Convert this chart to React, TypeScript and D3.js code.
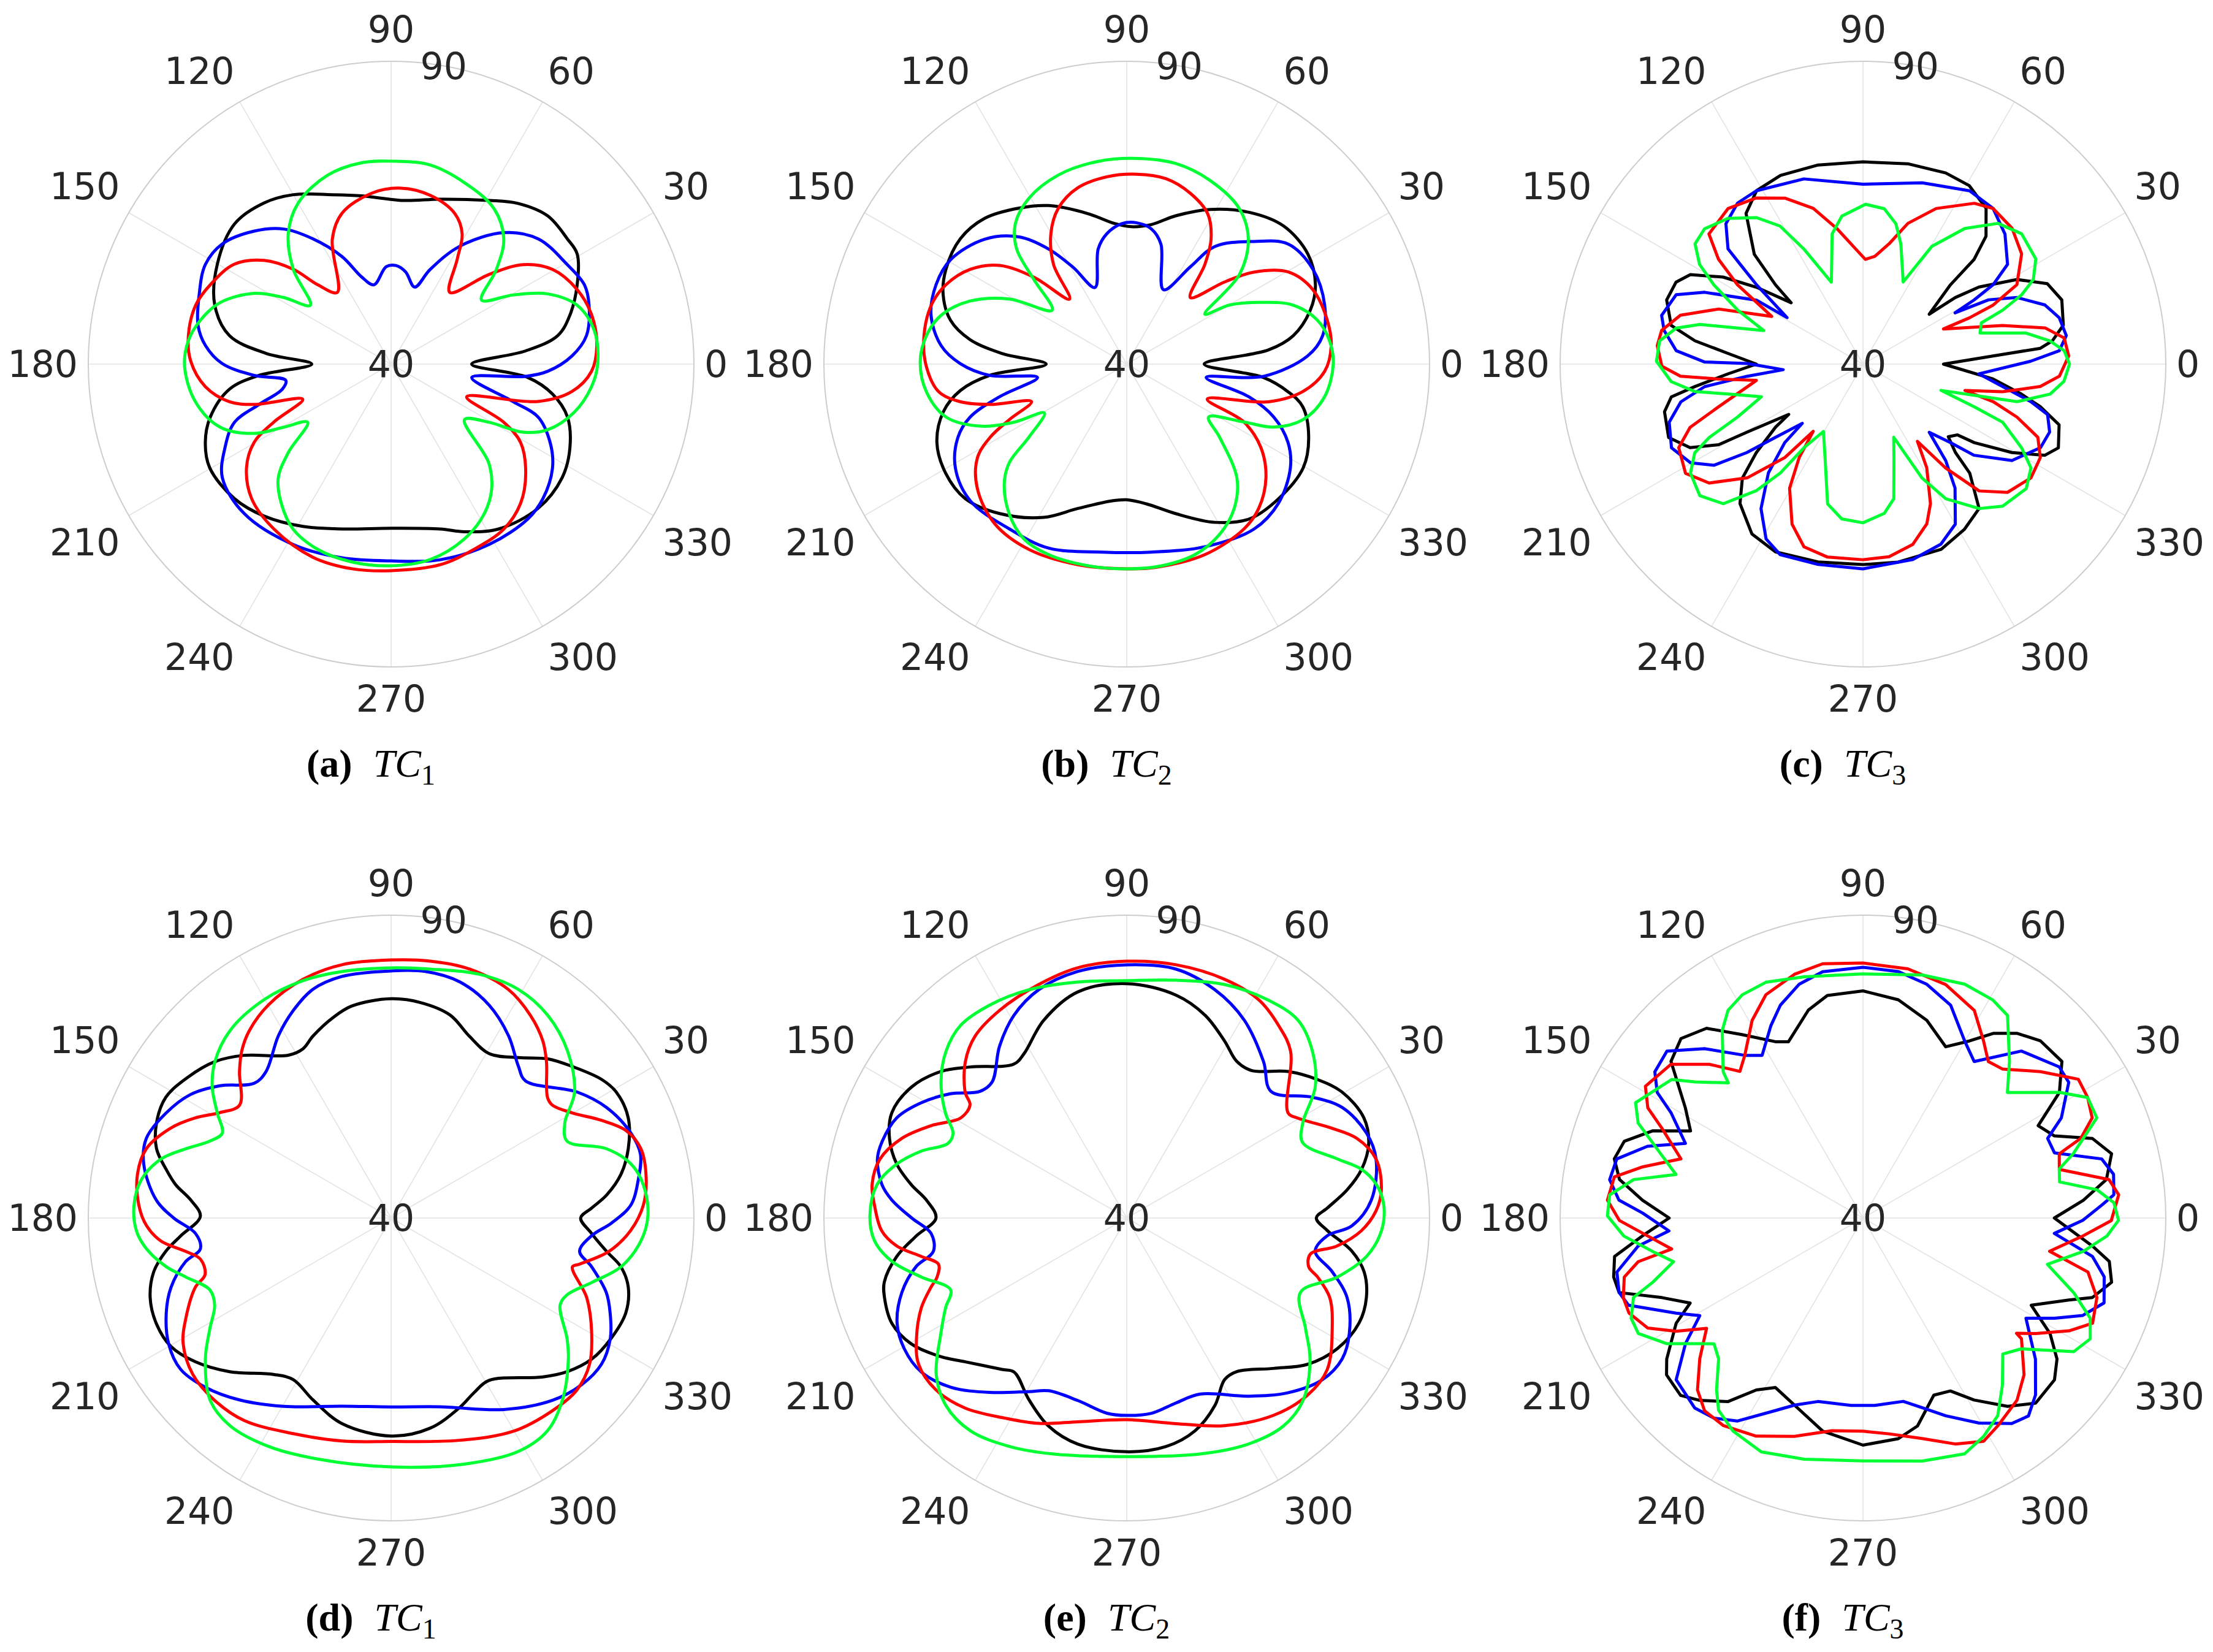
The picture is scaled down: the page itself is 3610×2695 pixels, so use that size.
import React from "react";
import * as d3 from "d3";

type Pt = [number, number]; // [theta in degrees, r value]

// ---- axes / ticks ----
const thetaTicks = [0, 30, 60, 90, 120, 150, 180, 210, 240, 270, 300, 330];
const rTicks = [40, 90];
const rDomain: [number, number] = [40, 90];
const rLabelAngle = 80;
const seriesColors = ["#000000", "#0000ff", "#ff0000", "#00ff33"];

// ---- (a) TC1 ----
const aBlack: Pt[] = [[0,53.3],[5.6,62.3],[9.7,67.9],[15.3,70.6],[23.1,73.4],[30.6,75.7],[35.4,75.7],[43.4,75.6],[51.7,73.8],[59.1,71.5],[73.5,68.4],[85.7,67.1],[99.9,68.2],[109.1,69.6],[120,72.3],[128.3,73.9],[138.1,74.7],[150.1,73.1],[161.5,70.7],[170,67.1],[175.1,60.7],[180,53.1],[184.9,61.9],[188.8,67],[196.3,71.1],[202.9,73.3],[209.8,74.5],[220.6,74.1],[230.1,72.7],[241.5,70.5],[253.4,68.4],[270,67.1],[286.6,68.4],[293.6,70.2],[303.1,72.5],[315.5,74],[326.4,73.9],[334.9,72.6],[343.3,70.4],[349.5,67.1],[354.4,62.7]];
const aBlue: Pt[] = [[2.6,69.9],[8.3,72.6],[16.6,74.1],[22.3,74.5],[29.5,73.4],[40.4,71.9],[49.4,68.6],[59.8,62.5],[67.6,56.9],[73,53.3],[81,55.4],[87.2,56.3],[92.9,56.1],[102.2,53.4],[108.7,55.2],[114.5,59.5],[122,64.4],[128.5,68.5],[135.8,71.5],[144.5,74.2],[151.8,74.8],[160.1,73.7],[168.7,72.5],[174.3,70.8],[179.8,67.9],[184.7,62.7],[188.8,57.6],[192.9,58.4],[197,62.8],[200.4,67.6],[206.7,70.7],[214,73.6],[225.5,74.6],[241.5,73.9],[255.8,73],[270,72.5],[284.1,73.3],[298.5,73.9],[311.5,74.1],[318.4,73.5],[327.2,71.7],[333.7,69.3],[340.2,65.8],[342.9,61.1],[350.6,53.5],[354.8,62.3],[357.4,65.9]];
const aRed: Pt[] = [[5.1,74.1],[13.7,74.1],[21.8,73.1],[30.4,70.9],[37,67.3],[42.5,61.9],[50.7,55.3],[57.8,60.5],[61.4,64.5],[67.1,67],[76.9,68.6],[86.8,69.1],[96.5,68.4],[108,66.2],[115.2,62.8],[126.9,54.8],[132.7,57.8],[135.9,62.5],[140.8,67.1],[147.5,70.7],[156.3,72.6],[163.2,73.7],[172,73.8],[179.1,73.1],[186.9,70.9],[193.1,67.4],[196.4,63.6],[201.7,55.7],[206.3,61.6],[209.8,66.1],[215.7,69.4],[224,72],[234.6,73.4],[247.9,74.4],[259.2,74.4],[270,74.1],[283.8,74.1],[294.2,73.5],[304.3,73],[312.9,71.4],[321,68.6],[328.8,65],[332.7,60.9],[336.6,53.6],[345.7,65],[351.4,70.2],[357.9,73.1]];
const aGreen: Pt[] = [[0,74.1],[9.4,74],[17.6,72.2],[24.2,68.3],[29.5,63.2],[35.3,58.3],[42,63.4],[48,67.8],[56.6,70.8],[67.9,72.3],[78.9,73.5],[88.6,73.5],[98.3,73.6],[108.6,72.9],[120,70.7],[128.3,67.4],[135.9,62.5],[143.9,56.5],[148.2,60.9],[152.6,65.4],[160.2,70],[167,72.3],[173.4,73.7],[180.6,74.1],[190.9,72.9],[200.2,70.1],[206.9,65.3],[210.4,60.6],[214.9,56.8],[220.7,62.4],[225.3,66.5],[231.8,69.3],[239.3,71.7],[248.4,72.9],[258.8,73.3],[270,73.3],[281.3,72.9],[292.7,71.3],[301.9,69.1],[309,66.4],[314.7,62.9],[322.9,55.2],[329.3,58.8],[332.7,64.5],[337.2,68],[345.4,71.3],[353.6,73.3]];

// ---- (b) TC2 ----
const bBlack: Pt[] = [[0,52.8],[5.7,63.5],[9.7,67.9],[16.4,71.6],[22.8,73.8],[31.3,75],[41.4,74.5],[51.1,72.2],[61.7,69],[71.7,65.8],[80,63.4],[88,62.7],[94.9,63.3],[104.6,65.7],[116.3,69.2],[124.6,71.3],[134.2,73.6],[143,74.4],[152.4,73.7],[159.3,72.4],[166,70],[171.1,66.2],[175.1,60.7],[180,53.3],[184.7,62.7],[189,67.8],[194.6,71.3],[202.4,73.9],[211,74.9],[219.8,74.7],[229.6,72.4],[241.5,68.8],[251.2,65.2],[263.9,62.7],[270,62.4],[278,63.3],[288.2,66],[299.1,69.9],[308.3,72.6],[318.4,73.5],[329.5,73.8],[338,72.4],[346.4,69.9],[350.3,67],[354.4,62.7]];
const bBlue: Pt[] = [[2.6,69.9],[8.3,72.7],[16.6,74.1],[27,74.5],[36.7,73.2],[43.9,69.2],[53.1,64.3],[56.8,59.2],[63.7,53.7],[74.1,60.6],[79.7,62.7],[86.1,63.4],[92,63.2],[98.6,61.8],[103.9,59.6],[112.5,53.7],[119,58.3],[124.2,63],[130.2,67.5],[138.6,71.2],[149.3,73.8],[157.4,74.1],[166,73.3],[174.3,70.8],[179.8,67.5],[184.7,62.7],[188.5,54.9],[194.4,61.7],[198.7,67.3],[203.5,70.4],[211.3,73.1],[221.2,74.3],[234.6,73.4],[247,73],[262.6,71.3],[277.4,71.3],[293.2,72.8],[307.6,74.4],[317.4,74],[327.6,72],[334.1,69.6],[340.2,65.8],[345,60.9],[350.5,53.3],[354.9,62.7]];
const bRed: Pt[] = [[5.1,73.9],[12.3,73.9],[21.8,73.1],[29.7,70.7],[35.9,65.9],[40,61.1],[46.3,55.2],[51.9,60.9],[56,64.9],[61.7,68.2],[69.6,70.1],[78.1,71.3],[87.1,71.4],[96,71.1],[105.6,70.2],[113.7,68.1],[120.2,64.9],[126.3,60.4],[131.3,54.3],[136.9,61],[142.2,66.6],[148.8,70.2],[156.3,72.6],[163.2,73.7],[172,73.8],[180.6,73.1],[188.3,71.4],[192.7,68.2],[196.4,63.6],[201.5,56.9],[205.3,61.4],[208.2,65.6],[212.1,69.1],[219.8,72.1],[230.4,74.2],[242.2,74.6],[256.3,74.1],[270,73.8],[278.2,73.9],[292.3,74],[305.4,73.4],[312.4,72.3],[320.7,69.7],[328.1,66.1],[333.7,61.6],[336.5,54.5],[345.1,64.2],[351.1,69.4],[357.9,72.7]];
const bGreen: Pt[] = [[0,74.1],[6.6,73.7],[13,72.3],[19.6,69.1],[25,64.1],[29.9,59.6],[32.6,55.3],[38.5,63.8],[45.8,68.8],[54.1,71.7],[65.6,73.3],[76.3,74.1],[87.3,74],[98.2,73.8],[109.9,73.2],[120.5,71.8],[128.4,69.6],[133.7,66.3],[137.7,60.7],[144.1,55.2],[151,62.2],[158.1,67.9],[165.3,71.7],[171.9,73.4],[179.2,74.1],[187.8,73.4],[196.3,71.1],[202.9,66.3],[207.3,60.9],[210.7,55.8],[216.8,60.2],[220,65.3],[224.2,68.2],[231.8,71.4],[239.6,73.5],[247.7,74],[259,73.9],[270,73.8],[279.6,73.8],[289.8,73.4],[298.7,72],[306.7,69.7],[314,66.2],[321.8,59.5],[327.1,56.1],[333.7,61.6],[336.8,66.4],[342.5,70.5],[350.6,73.1]];

// ---- (c) TC3 ----
const cBlack: Pt[] = [[0,53.3],[3.6,61.5],[5.1,69.4],[7,71.5],[11,73.7],[17.9,74.5],[23.6,73.2],[28.8,69],[33.6,63],[35.8,58.8],[37,53.7],[42.2,59.5],[43.3,65.2],[46.1,69.3],[51.7,72.8],[59.2,74.3],[66.6,74.4],[77.4,73.9],[90,73.4],[102.7,73.7],[113.6,74],[121.5,73.6],[127.8,71.5],[134.7,65.5],[137.8,59.5],[139.5,55.6],[144.2,61.7],[148.1,67.2],[152.6,72.1],[156.3,73.7],[161.9,74.1],[168.6,72.3],[172.1,68],[175.5,62.3],[180,57.6],[184.1,62.3],[187.6,68],[189.7,72.1],[193.5,73.7],[200.7,74.3],[205.8,71.7],[209.2,67.3],[210.4,62.2],[214.1,54.8],[215.8,57.8],[219.7,62.9],[223.4,67.4],[228.6,70.7],[236.8,73.5],[245,74.2],[257.2,73.5],[270,73.1],[280.1,73.2],[292.9,73.2],[301.6,72],[308.8,70.6],[314.4,65.2],[316.3,61.1],[319.6,58.5],[323.2,59.5],[324.8,62.5],[329.3,68.6],[333.4,73.6],[336.8,75.1],[342.8,73.9],[346.5,70.1],[349.3,66.6],[353.5,61.6]];
const cBlue: Pt[] = [[355.2,59.2],[1,67.7],[3.9,72.5],[8,73.9],[13.3,73.3],[18,71.6],[23.4,67.7],[27.1,63.3],[29.1,57.4],[30,61.2],[31.4,65.2],[34.6,69],[42.5,71.8],[50.1,73.5],[58.4,73.6],[71.9,71.5],[90,69.7],[107.7,72.1],[121.6,73.6],[127.9,73.7],[134.3,72.4],[139.5,69.3],[140.9,66.1],[143.3,61.9],[148.5,54.7],[149,60.5],[155.6,68.7],[159.6,72.9],[166.4,74.2],[170.4,73.3],[175.9,70.9],[179.2,66.2],[179.7,59.1],[184,53.2],[186,59.3],[188.1,66.4],[191.7,70.7],[196.7,73.4],[203.6,74.5],[209.8,72.8],[214.2,69.7],[217.3,64.1],[219.9,58.9],[224.3,54],[225.1,58.3],[229,63.8],[234.8,69.2],[241,73],[246.5,74.3],[257.4,73.9],[270,73.8],[284.3,73.3],[293.4,72.4],[300,70.5],[306.6,65.5],[310.6,61],[314.2,55.7],[318.1,59.4],[320.6,63.7],[327.1,69.3],[334.8,72.4],[340,72.8],[344.7,71.6],[347.4,68.4],[350.2,64.2]];
const cRed: Pt[] = [[345.5,57.4],[348.8,63.5],[352.8,69.5],[356.5,72.5],[2.3,74],[7.4,73.5],[11.2,70.7],[15.5,63.9],[23.6,54.5],[23.5,59.2],[24.4,63.6],[27.3,68.6],[34.8,71.9],[42.3,73.3],[50.1,73.5],[55.3,72.3],[64.8,68.4],[72.3,64.4],[77.8,60.3],[83.7,57.9],[88.7,57.3],[93.5,59],[100.9,62.8],[107.7,67],[115.2,70.3],[122.7,72.6],[130.9,74],[139.8,73.3],[144,69.5],[147.7,64.5],[152.4,57],[159.1,65.5],[165,71.2],[170.5,73.7],[174.9,74.1],[180.6,73.2],[183.8,70.2],[185.9,64],[188.7,57.8],[196.5,64.9],[200.1,70.4],[204.4,73.4],[211.6,74.4],[217.7,72.1],[224.5,66.8],[230.1,60.1],[233.5,53.8],[235.7,58.7],[239.4,63.8],[246.1,68.9],[252.1,71.7],[259.6,72.4],[270,72.3],[277.7,72.1],[285.4,70.9],[291.8,68.4],[295.8,65.6],[301.6,60.1],[305.2,55.6],[308.5,61.9],[312.5,68.4],[318.4,71.9],[325.9,73.5],[332.2,73.1],[337.3,71.3],[341,66.9],[343.9,62.4]];
const cGreen: Pt[] = [[0,74.1],[3.8,73.3],[7.1,71.1],[10.8,67.4],[14.9,60],[19.2,60.7],[21.1,64.7],[23.6,68.6],[26.4,71.4],[31.3,73.4],[39.4,73.9],[46.2,72.2],[53.1,68],[59.7,62.5],[63.9,55.1],[72.5,60.8],[76.8,63.8],[82.2,65.9],[89.1,66.4],[98.1,64.7],[103.3,62.1],[111.1,54.5],[117.2,61.4],[121,66.6],[126,69.9],[132.8,72.8],[139.5,74.4],[144.4,74.1],[148.6,71.6],[152,67.9],[156.7,62.5],[161.3,57.3],[166.3,67.7],[169.1,71.4],[173.5,73.8],[179.2,74.1],[185.2,71.8],[189.3,68.1],[192.5,62.8],[197.8,57.6],[202.9,62.5],[205.5,68.1],[207.8,71.4],[212.3,73.7],[218.9,74.6],[225,72.6],[229.9,67.3],[232.8,62.6],[234.8,56.9],[239.6,52.9],[248,56.7],[255.8,63.8],[262.2,65.8],[270,66.2],[278.1,64.9],[282.9,62.8],[288.3,56.3],[292.8,53.1],[297.4,61.2],[301.6,66.1],[308.8,70.6],[314.5,72.9],[322.7,73.9],[328.3,72.6],[332.2,69.6],[337.4,65],[339,59.7],[341.4,53.6],[346.3,66.2],[350.9,71.3],[355.1,73.3]];

// ---- (d) TC1 ----
const dBlack: Pt[] = [[0,71.3],[2.9,73.2],[6.1,75.8],[10.7,78.6],[16.3,80.8],[22.9,82.5],[29.2,82.6],[33.4,81.6],[39.9,79],[45.4,76.9],[51.6,73.8],[59.2,71.6],[66.8,72.7],[73.8,74.9],[82.2,75.9],[90,76.2],[100.5,75.6],[106.4,74.4],[113.2,72.7],[117.5,71.5],[122.3,71.8],[132.1,76.2],[138.4,78.9],[145.2,80.8],[151.8,82.2],[157.9,81.8],[163.5,80.4],[167.8,78],[171.2,76],[174.9,73.2],[179.5,71.5],[184.9,74.9],[188.4,77.6],[192.8,80.2],[198.3,81.9],[204.1,82.5],[210.2,82.1],[216.3,80.1],[223.6,76.8],[233.1,72.3],[238.8,71.2],[246.8,72.7],[256.6,74.9],[270,76],[280.5,75.3],[289.8,73.3],[295.5,71.9],[301,71.3],[313.7,76.3],[318.9,78.6],[324.9,80.5],[331.3,81.4],[337.9,81.8],[343.7,80.8],[348,78.8],[351.2,76],[355.6,73.2]];
const dBlue: Pt[] = [[350,71.6],[354.9,73.2],[358.7,76.4],[3,79.6],[8.8,81.3],[14.4,82.5],[19.5,82],[27.1,80],[34.1,77.1],[45.6,71.7],[50,72.7],[57.2,75.8],[65.3,78.7],[73.8,80.6],[82.1,81.1],[90,80.8],[101.5,80.7],[108.9,79.9],[115.2,77.9],[121.7,75.4],[130.5,71.8],[135.4,71.7],[142.3,75.7],[148.4,78.9],[155,81],[162,82.5],[167.7,81.8],[175.6,78.9],[180,75.9],[184.5,72.4],[189.2,71.9],[192,74.7],[197.5,78.1],[202.9,80.3],[209.5,82.2],[215.7,82.8],[222.3,81.5],[230.2,79.1],[240.3,75.8],[255.4,72.1],[270,71.2],[284.5,72.2],[300.5,76.7],[311.5,80.2],[318.8,81.8],[325.2,82.3],[331.2,81.3],[336.6,79.4],[340.9,77.6],[346.3,74.1]];
const dRed: Pt[] = [[344.9,71],[346.2,72],[351.3,76.4],[357,79.6],[2.9,81.7],[8.6,82.6],[15.5,82.8],[20.4,81.4],[24.9,78.3],[30.1,74.6],[35,72.5],[37.6,72.6],[45.2,76.4],[49.4,78.5],[55.5,80.6],[62.8,82.4],[72.6,83.1],[81.3,82.9],[90,82.6],[101,82.6],[110.3,82],[119.9,80.6],[127.1,78.8],[131.8,77],[136,74.8],[143.3,71.2],[148.4,73.2],[152.9,76.3],[157.8,79.3],[164.2,82],[170.2,82.5],[177.1,81.7],[181.8,80.4],[185.7,78.2],[189.2,74.4],[192.2,72.2],[196.9,72.1],[199.5,74.3],[206,77.7],[211.1,80.1],[218.3,81.7],[225.9,81.9],[234.1,81.3],[245.6,79.1],[257.6,77.7],[270,76.9],[287.1,78.4],[299.9,80.6],[310,81.5],[317.2,81.8],[323.6,80.7],[330.1,78.2],[337.8,74.9]];
const dGreen: Pt[] = [[0.5,82.4],[7.5,82],[12.7,80.6],[17.9,77.3],[23.6,71.7],[28.7,72.7],[34.4,76.7],[43.4,80.1],[52.3,82.3],[60.9,83.2],[70.1,82.8],[81.1,81.6],[90,81.3],[101.3,81.5],[110.3,81.8],[120.3,81.7],[130.7,80.8],[138.4,78.9],[143.8,76.6],[148.9,73.5],[153.3,71.2],[157,72.5],[161.4,75.8],[165.6,79.2],[171.2,81.7],[177.2,82.5],[182.9,82.1],[187.2,80.7],[192.2,78],[196,75.3],[201.6,72.2],[206.3,72.5],[211.3,75],[217.2,78.5],[225.2,82.4],[232.2,83.4],[241.8,82.8],[253.1,81.6],[270,81.1],[286.6,82.4],[298.6,83.9],[306.3,83.6],[313.2,81.3],[321.5,77.4],[325.6,75.2],[332.7,71.4],[336.4,71.7],[342.2,74.8],[348,78.8],[354.7,81.4]];

// ---- (e) TC2 ----
const eBlack: Pt[] = [[0,71.3],[2.9,73.2],[7.3,76.7],[11.7,79.6],[17.1,81.8],[22.9,82.5],[30.3,81.2],[36,78.9],[42.2,76],[49.8,71.9],[54.9,71.6],[61.1,73.4],[68.9,75.9],[77.6,77.7],[90,78.7],[102.2,78.2],[112.8,75.4],[122,72],[126.2,71.5],[136,75.9],[141.8,79.1],[148.7,81.6],[155.9,82.5],[161.5,81.3],[166.8,79],[171.2,76],[174.9,73.2],[180,71.5],[184.9,74.9],[189.5,78.5],[194.8,81.4],[198.2,82.1],[204.1,82.5],[210.3,81.2],[216.7,78.3],[221.7,75.7],[230.5,72.4],[233.8,71.5],[241.8,74.1],[249.4,76.7],[257.8,78.2],[270,78.6],[279.7,78.3],[287.8,76.9],[295.2,74.2],[301.2,71.2],[305.6,71.2],[314.3,74.7],[321,78.4],[328.1,80.9],[335.7,82.1],[341.6,81.7],[347.2,80.2],[351.6,77.6],[356.4,73.2]];
const eBlue: Pt[] = [[350,71.6],[354.9,73.2],[358,77.2],[4.2,80.5],[13.3,82.3],[19.5,82],[27.1,80],[33,76.6],[41.3,71.7],[48.8,74.3],[59.3,78],[68.9,80.4],[78.9,81.9],[90,81.8],[101.3,81.5],[111.1,80.4],[119.1,78.3],[126.5,75.3],[134.7,71.6],[139.2,72],[144.8,75.6],[150.7,78.9],[156.4,81.4],[162.5,82.3],[166.7,82.3],[172.2,80.8],[175.6,78.9],[180,75.5],[184.5,72.4],[189.8,72.4],[193,75.7],[198.3,79.1],[204.6,81.7],[210.4,82.6],[216.8,82.4],[223.9,80.3],[231.9,76.6],[240.6,72.9],[245.7,71.3],[255,71.2],[264.2,72.4],[270,72.6],[277.2,72.5],[284.9,71.6],[292.6,71.5],[304.5,75.7],[312.8,79.3],[320.4,81.9],[326.8,82.5],[332.6,81.4],[340.1,78.7],[345.3,75.1]];
const eRed: Pt[] = [[345,71.1],[348.9,70.9],[352.4,75],[356.9,78.8],[1.7,81.2],[6.3,82.3],[13.3,82.3],[19.1,80.2],[23.6,77],[30.3,72.7],[33.1,71.8],[45.5,78.6],[51.8,80.5],[58.8,82.1],[67.7,82.6],[79,82.6],[90,82.4],[101.1,82.1],[110.7,81.2],[121.5,80.2],[129.8,79.1],[135.9,77.1],[142.1,73.8],[144.2,71.9],[148.9,72],[154.7,75.7],[160.5,79.4],[166.6,81.9],[172.5,82.4],[177.1,81.7],[183,80.5],[187,78.2],[190.6,74.5],[193.8,72],[197.3,72.8],[199.5,74.3],[203.6,77],[209.8,80],[215.1,82],[222,82.4],[229.6,81.2],[238.6,78.7],[246.8,76.9],[256.5,74.6],[270,73.3],[283.4,74.9],[295.2,77.9],[306.6,80.6],[315.6,81.8],[322.9,81.5],[331.8,78.5],[338.6,76],[342.8,73]];
const eGreen: Pt[] = [[2.8,82.5],[7.6,81.6],[11.7,79.6],[15.7,76.1],[23.2,71.6],[28.3,73],[34.8,77.9],[41.9,81.2],[49.1,83.2],[57,82.9],[67.3,81.8],[78.3,80.1],[90,79.2],[101.7,79.8],[113.2,81],[122.7,81.8],[130.8,82],[137.3,80.6],[143.8,78],[149.9,74.6],[154,71.9],[157.4,72],[162,75.7],[166.8,79],[172.4,81.6],[179.5,82.4],[185.2,81.8],[190.5,79.4],[196,75.3],[202.2,71.4],[206.4,73.4],[211.8,76.1],[219.4,80.7],[226,83],[233.7,83.6],[242.8,82.4],[252.8,80.8],[270,79.4],[287.2,80.8],[298.4,82.4],[307,83],[314,81.9],[322.4,78.2],[328.3,74.7],[336.8,71.2],[344.3,76.1],[350.9,80.1],[357.1,82.1]];

// ---- (f) TC3 ----
const fBlack: Pt[] = [[0,71.6],[4.6,76.5],[9,80.7],[14.5,82.4],[19.1,80.1],[23.2,74.4],[27.8,72.7],[32.6,78.5],[38.2,81.8],[45,81.4],[50.2,79.7],[54.8,77.3],[59,74.1],[64.2,71.4],[72.1,74.3],[80.8,76.5],[90,77.5],[99.1,77.2],[104.7,75.5],[112.9,71.6],[116.4,72.5],[123.3,76.2],[129.5,80.6],[135.4,82.2],[140.8,80.9],[148.2,74.5],[153.2,71.9],[157.5,77.6],[162.2,81.4],[166.6,82.2],[171,80.7],[175.4,76.5],[180,72],[184.6,76.5],[188.8,81.5],[193.3,82.3],[197,82.1],[201.6,75.7],[206.2,71.8],[209.4,75.4],[215.7,79.9],[218.6,81.5],[224.2,82],[228.2,80.4],[233.7,77.6],[238.2,73.4],[242.7,71.5],[249.9,72.9],[259.3,75.8],[270,77.5],[279.1,76.9],[284.7,75.5],[291.8,71.5],[296.8,72],[301.4,75.2],[307.5,79.2],[313,81.8],[319.8,81.4],[324,79.6],[328.3,76.3],[332.6,71.3],[338.3,76.6],[340.9,80.1],[345.5,82.4],[350,81.3],[353,78.2]];
const fBlue: Pt[] = [[355.4,71.7],[359.4,76.3],[3.1,79.5],[5.3,81.6],[9.9,82],[13.9,80.6],[18.8,73.4],[23.3,73.2],[26.8,76.7],[33.4,80.7],[37.6,80.9],[46.5,78],[54.6,71.7],[60.1,73.7],[67.6,78],[74.7,80],[81.8,81.1],[90,81.4],[99.3,81.2],[105.3,80],[111.2,77.7],[115.6,75.2],[121.8,71.6],[126,73.2],[133.1,78.3],[139.6,82.5],[144.9,82],[148.6,79.8],[151.3,76.1],[157.2,71.8],[161.6,77.5],[166.5,81.8],[171.4,82.3],[175.8,80.4],[178.7,76.4],[183.8,72.1],[187.1,77.4],[192.4,81.6],[197,82.1],[200.4,81.3],[207,74.6],[210.9,71.4],[215.3,75.9],[220.9,80.8],[228.5,81.9],[233.3,81.2],[238.3,79.4],[245.6,74.9],[249.9,72.9],[256.2,71.2],[266.4,71],[273.6,71],[282.4,71],[287.3,72.8],[292.7,75.4],[299.5,78.9],[305.9,81.9],[309.9,82.6],[314.3,80.8],[320.7,76.8],[328.4,71.6],[332.4,75.7],[336.1,79.7],[340.6,82.2],[346.3,81],[350.5,78.4]];
const fRed: Pt[] = [[349.9,71.3],[355.4,76.5],[359.4,81],[5.2,82.4],[8.9,81.1],[13.9,73.4],[18.1,74.1],[20.1,78.3],[23.6,81.3],[28.2,82.1],[32.8,82.3],[39.5,78],[46.9,73.7],[51.3,73.1],[55.8,75.4],[61.8,78.9],[70.5,80.9],[79.8,81.8],[90,82.1],[99,82.5],[105.7,81.8],[113.5,80.2],[119.3,77.4],[126,73.2],[130,71.6],[135,75.9],[141.3,80.6],[148.8,82],[152.9,79.9],[155.9,76.4],[162,71.6],[166.9,77.3],[170.6,81.6],[176,82.3],[180.6,80.2],[184,76.4],[189.2,72],[191,77.8],[193.9,80.6],[198.4,81.7],[202.1,81.7],[207.1,79.9],[211.2,76.1],[215.2,71.6],[220.8,75.6],[226.1,79.4],[230.6,81.2],[236.1,81.3],[243.9,80.1],[252.5,77.8],[261.7,75.5],[270,75.2],[276.9,75.9],[285,77.7],[292.2,80.3],[298.4,81.9],[303,80.9],[310.2,79.4],[315.8,77.1],[322.7,72.9],[323.1,71.7],[326.2,74.3],[331.3,78.8],[335.4,81.7],[341.2,80.8],[346.5,78.2]];
const fGreen: Pt[] = [[359.5,82.2],[3.5,81.5],[6.9,78.9],[10.4,73],[14,73.4],[17,76.3],[23.2,82],[28.2,82.1],[32.6,78.5],[41,71.6],[46.9,75.4],[54.5,81.1],[59.2,81.9],[66.5,82.1],[76.3,81.3],[90,80.3],[103.7,81],[112.3,82.1],[118.4,81.9],[123,80.9],[126.9,78.7],[133.7,73.4],[134.9,71.5],[141,75.7],[144.1,79],[153.1,82.1],[157.1,80.3],[161.4,75.9],[166.9,71.7],[170.5,78.4],[174.8,82],[179.5,82.2],[184.3,79.6],[189,75.2],[193,72.1],[197,76.3],[199.1,80.1],[203.4,81.7],[207.2,81.7],[212.6,78.5],[217.6,74],[220.2,72.2],[224.3,73.3],[229.6,77.3],[233.1,79.7],[238.6,81.2],[246.5,82.1],[256.3,81],[270,80.1],[283.7,81.3],[293.3,82.4],[298.9,81.2],[304.3,79.5],[309.9,75.9],[315.8,72.2],[320.4,73.9],[327.6,81.2],[332,82.5],[336.2,81],[340.5,76.9],[345.9,71.4],[351.4,76.8],[355.8,80.4]];

const panelTags = ["a", "b", "c", "d", "e", "f"];
const panelSubs = ["1", "2", "3", "1", "2", "3"];
const panelSmooth = [true, true, false, true, true, false];
const panelSeries: Pt[][][] = [
  [aBlack, aBlue, aRed, aGreen],
  [bBlack, bBlue, bRed, bGreen],
  [cBlack, cBlue, cRed, cGreen],
  [dBlack, dBlue, dRed, dGreen],
  [eBlack, eBlue, eRed, eGreen],
  [fBlack, fBlue, fRed, fGreen],
];

// ---- layout ----
const W = 3610;
const H = 2695;
const colX = [638, 1838, 3039];
const rowY = [594, 1987];
const R = 494;
const FONT = "'DejaVu Sans', sans-serif";
const TICK_SIZE = 60;
const TEXT_COLOR = "#262626";
const LABEL_GAP = 17;
const LABEL_H = 70;

const rad = (deg: number) => (deg * Math.PI) / 180;

// matlab-like placement: label box corner touches the ring R + gap
function thetaLabelCenter(deg: number, text: string): [number, number] {
  const w = text.length * 0.636 * TICK_SIZE;
  const c = Math.cos(rad(deg));
  const s = Math.sin(rad(deg));
  const ax = (R + LABEL_GAP) * c;
  const ay = (R + LABEL_GAP) * s;
  const hx = c > 0.01 ? w / 2 : c < -0.01 ? -w / 2 : 0;
  const hy = s > 0.01 ? LABEL_H / 2 : s < -0.01 ? -LABEL_H / 2 : 0;
  return [ax + hx, -(ay + hy)];
}

function PolarPanel({ cx, cy, series, tag, sub, smooth }: { cx: number; cy: number; series: Pt[][]; tag: string; sub: string; smooth: boolean }) {
  const r = d3.scaleLinear().domain(rDomain).range([0, R]);
  const line = d3
    .lineRadial<Pt>()
    .angle((d) => rad(90 - d[0]))
    .radius((d) => r(d[1]))
    .curve(smooth ? d3.curveCatmullRomClosed.alpha(0.5) : d3.curveLinearClosed);

  return (
    <g transform={`translate(${cx},${cy})`}>
      {thetaTicks.map((t) => {
        const [x, y] = d3.pointRadial(rad(90 - t), R);
        return <line key={`s${t}`} x1={0} y1={0} x2={x} y2={y} stroke="#e3e3e3" strokeWidth={1.6} />;
      })}
      <circle r={R} fill="none" stroke="#cdcdcd" strokeWidth={2} />
      {series.map((s, i) => (
        <path key={i} d={line(s) ?? ""} fill="none" stroke={seriesColors[i]} strokeWidth={5} strokeLinejoin="round" />
      ))}
      {thetaTicks.map((t) => {
        const [x, y] = thetaLabelCenter(t, String(t));
        return (
          <text key={`t${t}`} x={x} y={y} textAnchor="middle" dominantBaseline="central" fontFamily={FONT} fontSize={TICK_SIZE} fill={TEXT_COLOR}>
            {t}
          </text>
        );
      })}
      {rTicks.map((v) => {
        const [x, y] = d3.pointRadial(rad(90 - rLabelAngle), r(v));
        return (
          <text key={`r${v}`} x={x} y={y} textAnchor="middle" dominantBaseline="central" fontFamily={FONT} fontSize={TICK_SIZE} fill={TEXT_COLOR}>
            {v}
          </text>
        );
      })}
      <text x={-33} y={673} textAnchor="middle" fontFamily="'Liberation Serif', serif" fontSize={64} fill="#000">
        <tspan fontWeight="bold">({tag})</tspan>
        <tspan dx={34} fontStyle="italic">TC</tspan>
        <tspan fontSize={46} dy={13}>{sub}</tspan>
      </text>
    </g>
  );
}

export default function App() {
  return (
    <svg width={W} height={H} style={{ position: "absolute", left: 0, top: 0, background: "#fff" }}>
      <rect width={W} height={H} fill="#fff" />
      {panelSeries.map((series, i) => (
        <PolarPanel
          key={i}
          cx={colX[i % 3]}
          cy={rowY[Math.floor(i / 3)]}
          series={series}
          tag={panelTags[i]}
          sub={panelSubs[i]}
          smooth={panelSmooth[i]}
        />
      ))}
    </svg>
  );
}
